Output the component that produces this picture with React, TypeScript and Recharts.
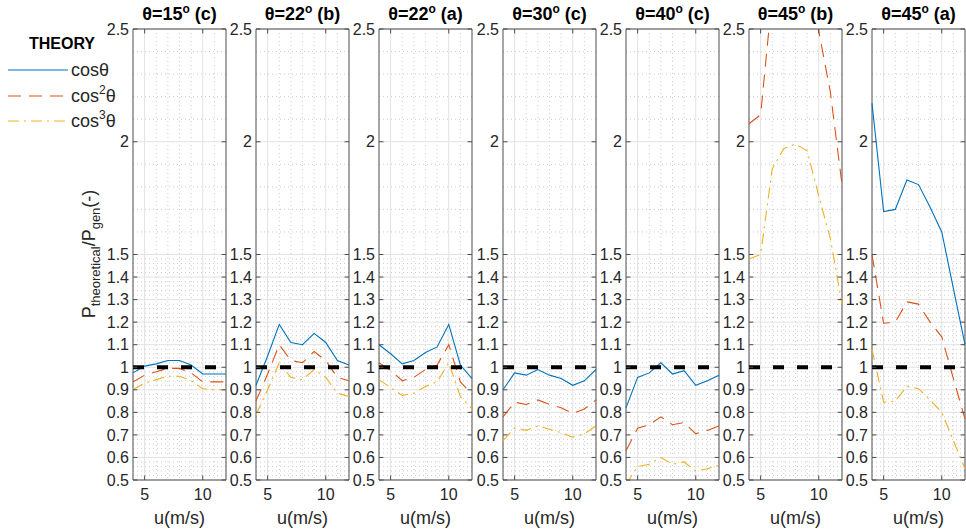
import React from 'react';
import { LineChart, Line, XAxis, YAxis, CartesianGrid, ReferenceLine, ReferenceArea } from 'recharts';

// wind speed samples shared by every panel
const speeds = [4, 5, 6, 7, 8, 9, 10, 11, 12];

const panelAngles = ['15', '22', '22', '30', '40', '45', '45'];
const panelCases = ['c', 'b', 'a', 'c', 'c', 'b', 'a'];

// P_theoretical / P_gen for each panel, one row per panel
const cosTheta = [
  [0.975, 1.005, 1.015, 1.03, 1.03, 1.01, 0.97, 0.97, 0.97],
  [0.92, 1.05, 1.19, 1.11, 1.1, 1.15, 1.11, 1.03, 1.01],
  [1.1, 1.06, 1.015, 1.03, 1.065, 1.09, 1.19, 1.01, 0.95],
  [0.9, 0.975, 0.965, 0.99, 0.965, 0.95, 0.92, 0.94, 0.99],
  [0.82, 0.955, 0.975, 1.02, 0.97, 0.985, 0.92, 0.94, 0.965],
  [2.96, 3.0, 3.75, 3.94, 3.98, 3.92, 3.52, 3.14, 2.56],
  [2.17, 1.69, 1.7, 1.83, 1.81, 1.71, 1.6, 1.35, 1.1],
];

const cos2Theta = [
  [0.935, 0.965, 0.98, 0.995, 0.995, 0.975, 0.935, 0.935, 0.935],
  [0.85, 0.97, 1.1, 1.03, 1.02, 1.07, 1.03, 0.955, 0.94],
  [1.02, 0.985, 0.94, 0.955, 0.99, 1.01, 1.1, 0.935, 0.88],
  [0.78, 0.845, 0.835, 0.855, 0.835, 0.82, 0.795, 0.815, 0.855],
  [0.63, 0.73, 0.745, 0.78, 0.745, 0.755, 0.705, 0.72, 0.74],
  [2.08, 2.12, 2.65, 2.79, 2.81, 2.77, 2.49, 2.22, 1.81],
  [1.5, 1.195, 1.2, 1.29, 1.28, 1.2, 1.135, 0.95, 0.77],
];

const cos3Theta = [
  [0.9, 0.93, 0.945, 0.96, 0.96, 0.94, 0.905, 0.9, 0.9],
  [0.79, 0.9, 1.02, 0.955, 0.945, 0.99, 0.955, 0.885, 0.87],
  [0.945, 0.91, 0.875, 0.885, 0.915, 0.935, 1.02, 0.87, 0.815],
  [0.675, 0.73, 0.72, 0.74, 0.725, 0.71, 0.69, 0.705, 0.74],
  [0.48, 0.56, 0.57, 0.6, 0.57, 0.58, 0.54, 0.55, 0.565],
  [1.48, 1.5, 1.88, 1.97, 1.99, 1.96, 1.76, 1.57, 1.28],
  [1.08, 0.845, 0.85, 0.915, 0.905, 0.855, 0.8, 0.675, 0.55],
];

const yTicks = [0.5, 0.6, 0.7, 0.8, 0.9, 1, 1.1, 1.2, 1.3, 1.4, 1.5, 2, 2.5];
const xTicks = [5, 10];

// minor grid: 0.02 steps below 1.5, 0.1 steps above
const yMinor: number[] = [];
for (let k = 26; k <= 74; k++) if (k % 5 !== 0) yMinor.push(k / 50);
[1.6, 1.7, 1.8, 1.9, 2.1, 2.2, 2.3, 2.4].forEach((v) => yMinor.push(v));
const xMinor = [6, 7, 8, 9, 11];

const BLUE = '#0072BD';
const ORANGE = '#D95319';
const YELLOW = '#EDB120';
const AXIS = '#4d4d4d';
const TEXT = '#262626';

const PLOT_W = 93;
const AXIS_W = 32;
const panelLefts = [133, 256, 379, 503, 626, 749, 872];

const Panel: React.FC<{ idx: number }> = ({ idx }) => {
  const rows = speeds.map((u, k) => ({
    u,
    c1: cosTheta[idx][k],
    c2: cos2Theta[idx][k],
    c3: cos3Theta[idx][k],
  }));
  const left = panelLefts[idx];

  return (
    <div style={{ position: 'absolute', left: left - AXIS_W, top: 0 }}>
      <div
        style={{
          position: 'absolute',
          left: AXIS_W - 10,
          width: PLOT_W + 20,
          top: 3,
          textAlign: 'center',
          fontWeight: 'bold',
          fontSize: 18,
          lineHeight: '22px',
          color: '#000',
          whiteSpace: 'nowrap',
        }}
      >
        θ={panelAngles[idx]}
        <span style={{ fontSize: 12, position: 'relative', top: -7 }}>o</span> ({panelCases[idx]})
      </div>
      <LineChart
        width={AXIS_W + PLOT_W + 1}
        height={532}
        data={rows}
        margin={{ top: 29, right: 1, bottom: 0, left: 0 }}
      >
        <CartesianGrid
          stroke="#cdcdcd"
          strokeDasharray="1 3"
          horizontalValues={yMinor}
          verticalValues={xMinor}
        />
        <CartesianGrid stroke="#e2e2e2" horizontalValues={yTicks} verticalValues={xTicks} />
        <XAxis
          dataKey="u"
          type="number"
          domain={[4, 12]}
          ticks={xTicks}
          interval={0}
          tickLine={false}
          axisLine={false}
          tickSize={0}
          tickMargin={9}
          height={52}
          tick={{ fontSize: 16, fill: TEXT }}
          label={{ value: 'u(m/s)', position: 'insideBottom', offset: 8, fontSize: 18, fill: TEXT }}
        />
        <YAxis
          type="number"
          domain={[0.5, 2.5]}
          ticks={yTicks}
          interval={0}
          allowDataOverflow
          width={AXIS_W}
          tickLine={false}
          axisLine={false}
          tickSize={0}
          tickMargin={4}
          tick={{ fontSize: 16, fill: TEXT }}
        />
        <Line dataKey="c1" stroke={BLUE} strokeWidth={1.1} dot={false} isAnimationActive={false} />
        <Line
          dataKey="c2"
          stroke={ORANGE}
          strokeWidth={1.1}
          strokeDasharray="13 8"
          dot={false}
          isAnimationActive={false}
        />
        <Line
          dataKey="c3"
          stroke={YELLOW}
          strokeWidth={1.1}
          strokeDasharray="11 5 2 5"
          dot={false}
          isAnimationActive={false}
        />
        <ReferenceLine y={1} stroke="#000" strokeWidth={4} strokeDasharray="11 13" />
        {/* inward tick marks on all four sides */}
        {yTicks.map((v) => (
          <ReferenceLine key={'l' + v} segment={[{ x: 4, y: v }, { x: 4.38, y: v }]} stroke={AXIS} />
        ))}
        {yTicks.map((v) => (
          <ReferenceLine key={'r' + v} segment={[{ x: 11.62, y: v }, { x: 12, y: v }]} stroke={AXIS} />
        ))}
        {xTicks.map((v) => (
          <ReferenceLine key={'b' + v} segment={[{ x: v, y: 0.5 }, { x: v, y: 0.52 }]} stroke={AXIS} />
        ))}
        {xTicks.map((v) => (
          <ReferenceLine key={'t' + v} segment={[{ x: v, y: 2.48 }, { x: v, y: 2.5 }]} stroke={AXIS} />
        ))}
        <ReferenceArea x1={4} x2={12} y1={0.5} y2={2.5} fill="none" stroke={AXIS} strokeWidth={1} />
      </LineChart>
    </div>
  );
};

const legendRows = [
  { y: 70, color: BLUE, dash: undefined, power: '' },
  { y: 96, color: ORANGE, dash: '13 8', power: '2' },
  { y: 121, color: YELLOW, dash: '11 5 2 5', power: '3' },
];

const App: React.FC = () => (
  <div
    style={{
      position: 'absolute',
      left: 0,
      top: 0,
      width: 966,
      height: 532,
      background: '#fff',
      fontFamily: '"Liberation Sans", Arial, sans-serif',
      overflow: 'hidden',
    }}
  >
    <svg width={130} height={340} style={{ position: 'absolute', left: 0, top: 0 }}>
      <text x={62} y={49} textAnchor="middle" fontSize={16} fontWeight="bold" fill="#000">
        THEORY
      </text>
      {legendRows.map((r) => (
        <g key={r.y}>
          <line x1={8} x2={68} y1={r.y} y2={r.y} stroke={r.color} strokeWidth={1.1} strokeDasharray={r.dash} />
          <text x={71} y={r.y + 6} fontSize={18} fill={TEXT}>
            cos
            {r.power && (
              <tspan fontSize={12} dy={-8}>
                {r.power}
              </tspan>
            )}
            <tspan dy={r.power ? 8 : 0}>θ</tspan>
          </text>
        </g>
      ))}
      <text transform="translate(95,254) rotate(-90)" textAnchor="middle" fontSize={18} fill={TEXT}>
        P
        <tspan fontSize={13} dy={5}>
          theoretical
        </tspan>
        <tspan dy={-5}>/P</tspan>
        <tspan fontSize={13} dy={5}>
          gen
        </tspan>
        <tspan dy={-5}>(-)</tspan>
      </text>
    </svg>
    {panelLefts.map((_, i) => (
      <Panel key={i} idx={i} />
    ))}
  </div>
);

export default App;
